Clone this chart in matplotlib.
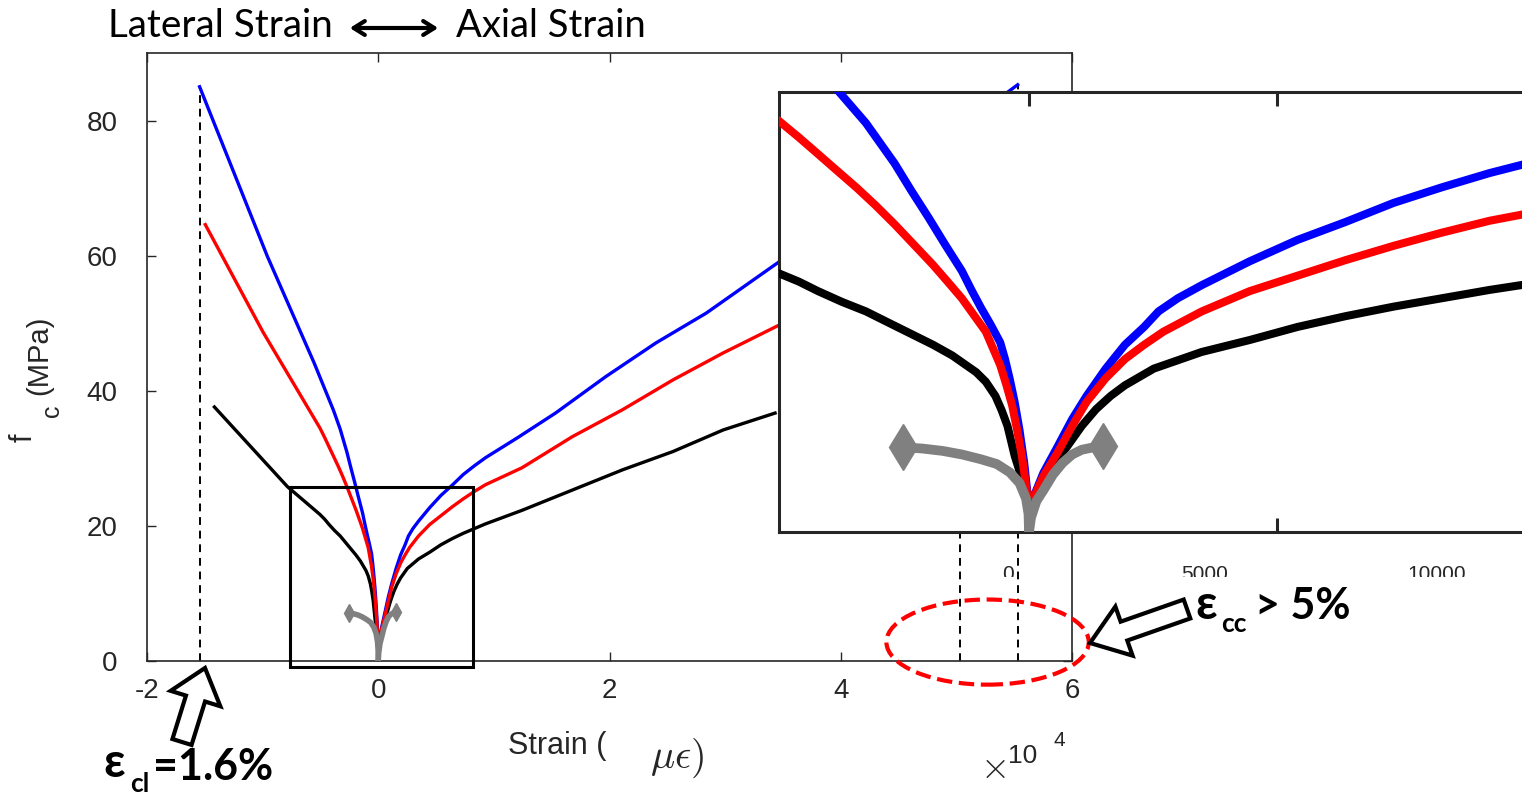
import matplotlib
matplotlib.use("Agg")
import matplotlib.pyplot as plt
import matplotlib.patches as mpatches
from matplotlib.transforms import Bbox, IdentityTransform

# ============================================================
# CONFIG
# ============================================================

W, H = 1522, 796
DPI = 100

BLUE = "#0000ff"
RED = "#ff0000"
BLACK = "#000000"
GRAY = "#808080"
AXIS_COLOR = "#262626"

plt.rcParams["axes.unicode_minus"] = False
plt.rcParams["mathtext.fontset"] = "cm"
plt.rcParams["font.family"] = ["Liberation Sans", "DejaVu Sans"]

# ============================================================
# DATA (strain in micro-strain, stress in MPa)
# ============================================================

blue_lat_x = [-15450, -9590, -5540, -3870, -3579, -3288, -2998, -2708, -2369, -2030,
              -1691, -1355, -1161, -968, -774, -581, -484, -387, -290, -194, -97, 0]
blue_lat_y = [85.0, 59.9, 44.1, 37.1, 35.7, 34.3, 32.6, 30.9, 28.6, 26.4,
              24.1, 21.9, 20.3, 18.8, 17.4, 15.9, 14.5, 12.8, 10.9, 8.6, 5.8, 2.0]
blue_ax_x = [290, 581, 871, 1159, 1546, 1933, 2320, 2611, 2998, 3482, 4448, 5415,
             6381, 7349, 8317, 9282, 12000, 15330, 19680, 24030, 28370, 34760, 45000, 55300]
blue_ax_y = [4.96, 7.2, 9.47, 11.4, 13.7, 15.7, 17.2, 18.5, 19.6, 20.7, 22.7, 24.5,
             26.0, 27.6, 28.9, 30.1, 33.0, 36.7, 42.1, 47.1, 51.5, 59.2, 72.2, 85.3]

red_lat_x = [-14960, -9970, -5048, -4641, -4254, -3869, -3482, -3095, -2708, -2321,
             -1935, -1643, -1355, -1113, -871, -726, -581, -454, -339, -242, -145, -77, 0]
red_lat_y = [64.6, 48.7, 34.5, 33.1, 31.7, 30.3, 28.9, 27.4, 25.8, 24.1,
             22.4, 21.0, 19.6, 18.2, 16.8, 15.4, 14.0, 12.3, 10.6, 8.6, 6.4, 4.4, 2.0]
red_ax_x = [290, 581, 871, 1159, 1546, 1933, 2320, 2708, 3482, 4448, 5415, 6381,
            7349, 8317, 9282, 12430, 16780, 21130, 25480, 29830, 34760, 50300]
red_ax_y = [4.7, 6.7, 8.9, 10.9, 12.9, 14.5, 15.7, 16.8, 18.5, 20.2, 21.5, 22.8,
            24.0, 25.1, 26.1, 28.6, 33.2, 37.2, 41.6, 45.6, 49.8, 63.5]

blk_lat_x = [-14170, -7850, -5048, -4641, -4254, -3772, -3288, -2805, -2321, -1934,
             -1546, -1306, -1065, -871, -677, -551, -435, -359, -290, -214, -145, 0]
blk_lat_y = [37.6, 25.8, 21.7, 21.0, 20.2, 19.3, 18.5, 17.5, 16.5, 15.7,
             14.8, 14.1, 13.4, 12.6, 11.4, 10.2, 8.9, 7.6, 6.4, 5.4, 4.4, 2.0]
blk_ax_x = [387, 774, 1065, 1352, 1643, 1933, 2514, 3482, 4448, 5415, 6381, 7349,
            8317, 9282, 12430, 16780, 21130, 25480, 29830, 34320]
blk_ax_y = [5.0, 7.2, 8.9, 10.3, 11.4, 12.3, 13.7, 15.1, 16.1, 17.2, 18.1, 18.9,
            19.6, 20.3, 22.3, 25.3, 28.3, 31.0, 34.2, 36.7]

# gray "split" arrow near the origin
gray_left_x = [0, -10, -60, -190, -387, -650, -968, -1350, -1740, -2150, -2550]
gray_left_y = [0, 1.5, 2.8, 4.1, 5.0, 5.7, 6.1, 6.5, 6.8, 7.0, 7.1]
gray_right_x = [0, 40, 150, 290, 480, 677, 870, 1065, 1300, 1500]
gray_right_y = [0, 1.2, 2.6, 3.5, 4.8, 5.8, 6.5, 6.9, 7.1, 7.2]

# ultimate strains (dashed markers)
ult_x = [-15450, 50300, 55300]
ult_y = [85.0, 63.5, 85.3]

X_TICKS = [-20000, 0, 20000, 40000, 60000]
X_TICK_LABELS = ["-2", "0", "2", "4", "6"]
Y_TICKS = [0, 20, 40, 60, 80]

SERIES = [
    (blk_lat_x + blk_ax_x, blk_lat_y + blk_ax_y, BLACK),
    (blue_lat_x + blue_ax_x, blue_lat_y + blue_ax_y, BLUE),
    (red_lat_x + red_ax_x, red_lat_y + red_ax_y, RED),
]


def fpos(x, y):
    """pixel (from top-left) -> figure fraction"""
    return x / W, 1 - y / H


def dpos(x, y):
    """pixel (from top-left) -> display coords"""
    return x, H - y


def draw_curves(ax, lw, gray_lw, head_size):
    for xs, ys, color in SERIES:
        ax.plot(xs, ys, color=color, lw=lw, solid_joinstyle="round", zorder=3)
    ax.plot(gray_left_x, gray_left_y, color=GRAY, lw=gray_lw, zorder=4)
    ax.plot(gray_right_x, gray_right_y, color=GRAY, lw=gray_lw, zorder=4)
    ax.plot([gray_left_x[-1]], [gray_left_y[-1]], marker="d", color=GRAY,
            markersize=head_size, zorder=4)
    ax.plot([gray_right_x[-1]], [gray_right_y[-1]], marker="d", color=GRAY,
            markersize=head_size, zorder=4)


fig = plt.figure(figsize=(W / DPI, H / DPI), dpi=DPI)

# ============================================================
# MAIN AXES
# ============================================================

ax = fig.add_axes([147 / W, (H - 661) / H, (1072 - 147) / W, (661 - 53) / H])
draw_curves(ax, 2.4, 4.0, 9)

for x, y in zip(ult_x, ult_y):
    ax.plot([x, x], [0, y], color="black", lw=1.4, ls=(0, (4, 3)), zorder=2)

ax.add_patch(mpatches.Rectangle((-7650, -0.9), 15820, 26.7, fill=False,
                                ec="black", lw=2.2, clip_on=False, zorder=5))
ax.add_patch(mpatches.Ellipse((52700, 2.8), 17500, 12.6, fill=False, ec=RED,
                              lw=3, ls="--", clip_on=False, zorder=6))

ax.set_xlim(-20000, 60000)
ax.set_ylim(0, 90)
ax.set_xticks(X_TICKS)
ax.set_xticklabels(X_TICK_LABELS)
ax.set_yticks(Y_TICKS)
ax.tick_params(direction="in", length=6.5, width=1, top=True, right=True,
               labelsize=20, labelcolor=AXIS_COLOR, color=AXIS_COLOR)
ax.tick_params(axis="x", pad=12)
ax.tick_params(axis="y", pad=21)
for s in ax.spines.values():
    s.set_color(AXIS_COLOR)
    s.set_linewidth(1.2)

# ============================================================
# INSET
# ============================================================

axi = fig.add_axes([779 / W, (H - 532) / H, (1537 - 779) / W, (532 - 92) / H])
draw_curves(axi, 5.8, 7.0, 23)
axi.set_xlim(-5040, 10240)
axi.set_ylim(0, 36.9)
axi.set_xticks([0, 5000])
axi.set_xticklabels([])
axi.set_yticks([])
axi.tick_params(direction="in", length=10, width=2.2, top=True,
                color=AXIS_COLOR)
for s in axi.spines.values():
    s.set_color(AXIS_COLOR)
    s.set_linewidth(2.2)

# cut-off inset tick labels
clip = Bbox.from_extents(779, H - 577, W, H - 555)
for x, lab in [(1008, "0"), (1205, "5000"), (1437, "10000")]:
    t = fig.text(*fpos(x, 565), lab, ha="center", va="top", fontsize=15,
                 color=AXIS_COLOR)
    t.set_clip_on(True)
    t.set_clip_box(clip)

# ============================================================
# LABELS
# ============================================================

fig.text(*fpos(508, 754), "Strain (", fontsize=22, color=AXIS_COLOR,
         va="baseline", ha="left")
fig.text(*fpos(650, 768), r"$\mu\epsilon)$", fontsize=29, color=AXIS_COLOR,
         va="baseline", ha="left")
fig.text(*fpos(980, 778), r"$\times$", fontsize=27, color=AXIS_COLOR,
         va="baseline", ha="left")
fig.text(*fpos(1008, 763), "10", fontsize=19, color=AXIS_COLOR,
         va="baseline", ha="left")
fig.text(*fpos(1053, 746), "4", fontsize=15, color=AXIS_COLOR,
         va="baseline", ha="left")

fig.text(*fpos(24, 438), "f", fontsize=22, color=AXIS_COLOR, rotation=90,
         va="center", ha="center")
fig.text(*fpos(52, 411), "c", fontsize=18, color=AXIS_COLOR, rotation=90,
         va="center", ha="center")
fig.text(*fpos(39, 355), "(MPa)", fontsize=21, color=AXIS_COLOR, rotation=90,
         va="center", ha="center")

# ============================================================
# ANNOTATIONS
# ============================================================

TOP_FONT = ["Lato", "Open Sans", "DejaVu Sans"]
fig.text(*fpos(108, 37), "Lateral Strain", fontsize=27.8, family=TOP_FONT,
         va="baseline", ha="left")
fig.text(*fpos(456, 37), "Axial Strain", fontsize=27.5, family=TOP_FONT,
         va="baseline", ha="left")
fig.add_artist(mpatches.FancyArrowPatch(
    dpos(347, 28), dpos(441, 28), arrowstyle="<->,head_length=8,head_width=5",
    lw=3, color="black", transform=IdentityTransform()))

BOLD = dict(family=TOP_FONT, fontweight="bold", va="baseline", ha="left")
fig.text(*fpos(103, 777), "ε", fontsize=34, **BOLD)
fig.text(*fpos(130, 792), "cl", fontsize=19, **BOLD)
fig.text(*fpos(153, 780), "=1.6%", fontsize=31, **BOLD)

fig.text(*fpos(1195, 619), "ε", fontsize=34, **BOLD)
fig.text(*fpos(1221, 632), "cc", fontsize=19, **BOLD)
fig.text(*fpos(1255, 619), "> 5%", fontsize=31, **BOLD)

# hollow block arrows
for tail, tip, hl in [((182, 742), (205, 668), 32), ((1187, 609), (1090, 643), 36)]:
    x0, y0 = dpos(*tail)
    x1, y1 = dpos(*tip)
    fig.add_artist(mpatches.FancyArrow(
        x0, y0, x1 - x0, y1 - y0, width=20, head_width=52, head_length=hl,
        length_includes_head=True, fc="white", ec="black", lw=3,
        transform=IdentityTransform()))

fig.savefig("out.png", dpi=DPI)
